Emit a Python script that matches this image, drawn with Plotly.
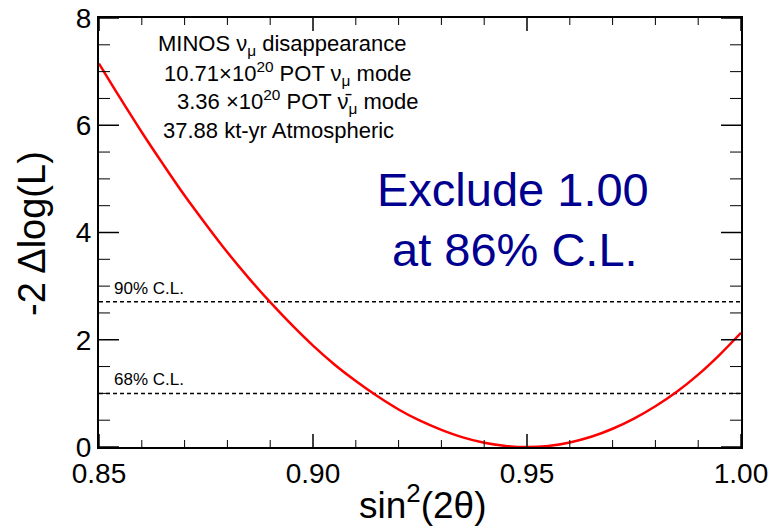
import plotly.graph_objects as go

# ---- data ----
sin2_2theta = [0.850, 0.855, 0.860, 0.865, 0.870, 0.875, 0.880, 0.885, 0.890, 0.895,
               0.900, 0.905, 0.910, 0.915, 0.920, 0.925, 0.930, 0.935, 0.940, 0.945,
               0.950, 0.955, 0.960, 0.965, 0.970, 0.975, 0.980, 0.985, 0.990, 0.995, 1.000]
minus2_dlogL = [7.15, 6.50, 5.87, 5.27, 4.69, 4.15, 3.63, 3.15, 2.70, 2.28,
                1.89, 1.54, 1.23, 0.95, 0.70, 0.49, 0.32, 0.18, 0.08, 0.02,
                0.00, 0.02, 0.085, 0.19, 0.34, 0.53, 0.76, 1.03, 1.35, 1.72, 2.13]
cl_levels = [2.71, 1.00]
cl_labels = ["90% C.L.", "68% C.L."]
x_range = [0.85, 1.00]
y_range = [0, 8]
x_ticks = [0.85, 0.90, 0.95, 1.00]
y_ticks = [0, 2, 4, 6, 8]
x_minor_step = 0.01
y_minor_step = 0.5

FONT = "Liberation Sans, Arial, Helvetica, sans-serif"
W, H = 773, 532
L, R, T, B = 99, 32, 18, 85
PW = W - L - R
PH = H - T - B


def px_x(px):
    return (px - L) / PW


def px_y(py):
    return (H - B - py) / PH


fig = go.Figure()

for lvl in cl_levels:
    fig.add_trace(go.Scatter(x=x_range, y=[lvl, lvl], mode="lines",
                             line=dict(color="black", width=1.5, dash="4px,3px"),
                             hoverinfo="skip", showlegend=False))

fig.add_trace(go.Scatter(x=sin2_2theta, y=minus2_dlogL, mode="lines",
                         line=dict(color="#ff0000", width=2.5, shape="spline", smoothing=1.0),
                         showlegend=False))

# ---- tick marks (inside, on all four sides), derived from the tick lists ----
n_xminor = int(round((x_range[1] - x_range[0]) / x_minor_step))
n_yminor = int(round((y_range[1] - y_range[0]) / y_minor_step))
x_all = [round(x_range[0] + i * x_minor_step, 4) for i in range(n_xminor + 1)]
y_all = [round(y_range[0] + i * y_minor_step, 4) for i in range(n_yminor + 1)]
shapes = []
for v in x_all:
    major = any(abs(v - t) < 1e-9 for t in x_ticks)
    ln = (13 if major else 7) / PH
    wd = 1.5 if major else 1
    for base, sign in ((0, 1), (1, -1)):
        shapes.append(dict(type="line", xref="x", yref="paper", x0=v, x1=v,
                           y0=base, y1=base + sign * ln, layer="above",
                           line=dict(color="black", width=wd)))
for v in y_all:
    major = any(abs(v - t) < 1e-9 for t in y_ticks)
    ln = (20 if major else 11) / PW
    wd = 1.5 if major else 1
    for base, sign in ((0, 1), (1, -1)):
        shapes.append(dict(type="line", xref="paper", yref="y", x0=base, x1=base + sign * ln,
                           y0=v, y1=v, layer="above",
                           line=dict(color="black", width=wd)))

annotations = []
# CL labels (placed in paper coordinates derived from the level values)
for lvl, lab in zip(cl_levels, cl_labels):
    y_paper = (lvl - y_range[0]) / (y_range[1] - y_range[0])
    annotations.append(dict(x=px_x(112), xref="paper", y=y_paper, yref="paper", text=lab,
                            showarrow=False, xanchor="left", yanchor="bottom", yshift=2,
                            font=dict(family=FONT, size=17, color="black")))

# Info text
info_lines = [
    ("MINOS ν<sub>μ</sub> disappearance", 156, 45),
    ("10.71×10<sup>20</sup> POT ν<sub>μ</sub> mode", 162, 73),
    ("3.36 ×10<sup>20</sup> POT ν\u0304<sub>μ</sub> mode", 175, 101),
    ("37.88 kt-yr Atmospheric", 161, 130),
]
for txt, xp, yp in info_lines:
    annotations.append(dict(x=px_x(xp), xref="paper", y=px_y(yp), yref="paper", text=txt,
                            showarrow=False, xanchor="left", yanchor="middle",
                            font=dict(family=FONT, size=22, color="black")))

# Big blue text
for txt, xp, yp in [("Exclude 1.00", 513, 189), ("at 86% C.L.", 515, 249)]:
    annotations.append(dict(x=px_x(xp), xref="paper", y=px_y(yp), yref="paper", text=txt,
                            showarrow=False, xanchor="center", yanchor="middle",
                            font=dict(family=FONT, size=47, color="#000090")))

# Axis titles
annotations.append(dict(x=px_x(423), xref="paper", y=px_y(502), yref="paper",
                        text="sin<sup>2</sup>(2θ)", showarrow=False,
                        xanchor="center", yanchor="middle",
                        font=dict(family=FONT, size=37, color="black")))
annotations.append(dict(x=px_x(32), xref="paper", y=px_y(234), yref="paper",
                        text="-2 Δlog(L)", showarrow=False, textangle=-90,
                        xanchor="center", yanchor="middle",
                        font=dict(family=FONT, size=38, color="black")))

fig.update_layout(
    width=W, height=H,
    margin=dict(l=L, r=R, t=T, b=B, pad=0, autoexpand=False),
    paper_bgcolor="white", plot_bgcolor="white",
    font=dict(family=FONT, color="black"),
    annotations=annotations,
    shapes=shapes,
    showlegend=False,
)

fig.update_xaxes(range=x_range, tickmode="array", tickvals=x_ticks, tickformat=".2f",
                 ticks="", showline=True, linecolor="black", linewidth=2, mirror=True,
                 showgrid=False, zeroline=False, automargin=False,
                 tickfont=dict(family=FONT, size=28, color="black"))
fig.update_yaxes(range=y_range, tickmode="array", tickvals=y_ticks, ticksuffix=" ",
                 ticks="", showline=True, linecolor="black", linewidth=2, mirror=True,
                 showgrid=False, zeroline=False, automargin=False,
                 tickfont=dict(family=FONT, size=28, color="black"))

fig.write_html("out.html")
